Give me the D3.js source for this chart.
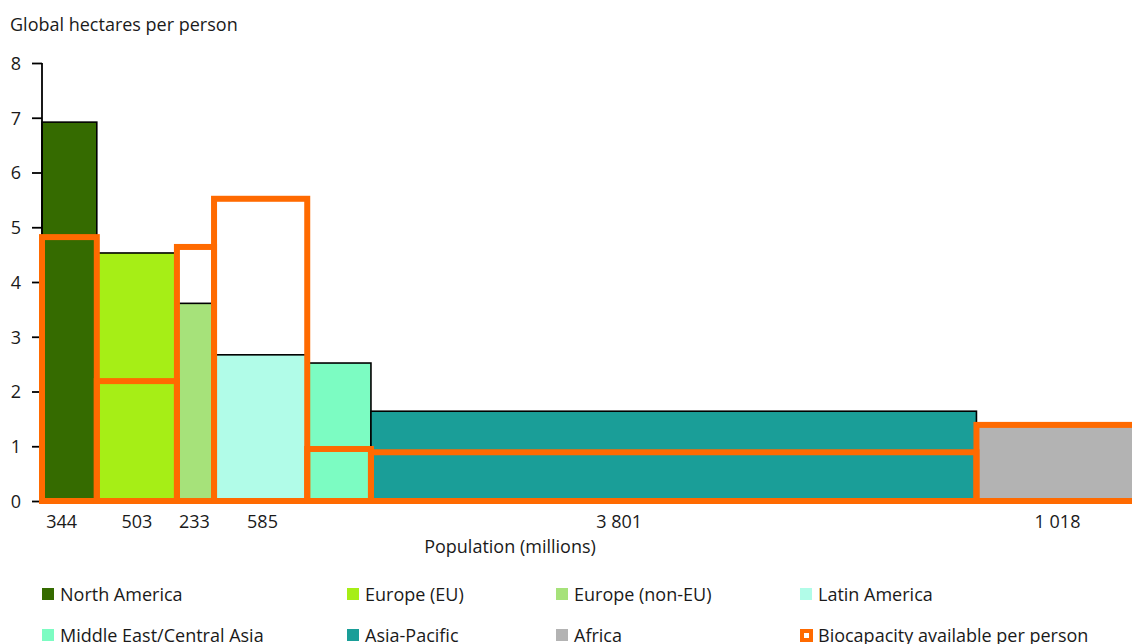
<!DOCTYPE html>
<html><head><meta charset="utf-8">
<script src="https://cdn.jsdelivr.net/npm/d3@7"></script>
<style>
html,body{margin:0;padding:0;background:#fff;overflow:hidden}
text{font-family:"Open Sans",sans-serif;fill:#1a1a1a}
</style></head>
<body><svg id="c" width="1132" height="644"></svg>
<script>
// ---- data ----
const regions = ["North America","Europe (EU)","Europe (non-EU)","Latin America","Middle East/Central Asia","Asia-Pacific","Africa"];
const population = [344,503,233,585,400,3801,1018];
const popLabels = ["344","503","233","585","","3 801","1 018"];
const footprint = [6.92,4.53,3.61,2.67,2.52,1.64,1.39];
const biocapacity = [4.82,2.19,4.64,5.52,0.95,0.89,1.39];
const yTicks = [0,1,2,3,4,5,6,7,8];
const colors = ["#356b00","#a6ee16","#a6e27a","#b1fce8","#7cfcc2","#1a9e98","#b3b3b3"];
const orange = "#ff6a00";

const svg = d3.select("#c");
const total = d3.sum(population);
const cum = d3.cumsum([0,...population]);
const x = d3.scaleLinear().domain([0,total]).range([42,42+total*0.1593]);
const y = d3.scaleLinear().domain([0,8]).range([501,63]);

const rows = regions.map((r,i)=>({r,i,x0:cum[i],x1:cum[i+1],f:footprint[i],b:biocapacity[i],c:colors[i],lab:popLabels[i]}));

// footprint bars
svg.append("g").selectAll("rect").data(rows).join("rect")
  .attr("x",d=>x(d.x0)).attr("y",d=>y(d.f))
  .attr("width",d=>x(d.x1)-x(d.x0)).attr("height",d=>y(0)-y(d.f))
  .attr("fill",d=>d.c).attr("stroke","#000").attr("stroke-width",1.6);

// y axis
const ya = svg.append("g").attr("transform","translate(42,0)")
  .call(d3.axisLeft(y).tickValues(yTicks).tickSize(10).tickPadding(11).tickFormat(d3.format("d")));
ya.select(".domain").attr("stroke","#000").attr("stroke-width",1.8).attr("d","M0,"+y(8)+"V"+y(0));
ya.selectAll(".tick line").attr("stroke","#000").attr("stroke-width",1.8);
ya.selectAll(".tick text").attr("font-size",18).attr("font-family","Open Sans").attr("fill","#1a1a1a").attr("dy","0.35em");

// biocapacity outlines
svg.append("g").selectAll("rect").data(rows).join("rect")
  .attr("x",d=>x(d.x0)).attr("y",d=>y(d.b))
  .attr("width",d=>x(d.x1)-x(d.x0)).attr("height",d=>y(0)-y(d.b))
  .attr("fill","none").attr("stroke",orange).attr("stroke-width",6);

// population labels
const labelFrac = [0.36,0.5,0.47,0.52,0.5,0.41,0.5];
svg.append("g").selectAll("text").data(rows).join("text")
  .attr("x",d=>x(d.x0)+(x(d.x1)-x(d.x0))*labelFrac[d.i]).attr("y",528)
  .attr("text-anchor","middle").attr("font-size",18).text(d=>d.lab);

svg.append("text").attr("x",510).attr("y",553).attr("text-anchor","middle").attr("font-size",18).text("Population (millions)");
svg.append("text").attr("x",10).attr("y",31).attr("font-size",18).text("Global hectares per person");

// legend
const legCols = [42,347,556,800];
const legRows = [588,629];
const legItems = regions.map((r,i)=>({label:r,color:colors[i],bio:false})).concat([{label:"Biocapacity available per person",color:orange,bio:true}]);
const lg = svg.append("g").selectAll("g").data(legItems).join("g")
  .attr("transform",(d,i)=>`translate(${legCols[i%4]},${legRows[Math.floor(i/4)]})`);
lg.append("rect").attr("x",d=>d.bio?2:0).attr("y",d=>d.bio?2:0).attr("width",d=>d.bio?9:12).attr("height",d=>d.bio?9:12)
  .attr("fill",d=>d.bio?"#fff":d.color).attr("stroke",d=>d.bio?orange:"none").attr("stroke-width",d=>d.bio?4:0);
lg.append("text").attr("x",18).attr("y",13).attr("font-size",18).text(d=>d.label);
</script></body></html>
